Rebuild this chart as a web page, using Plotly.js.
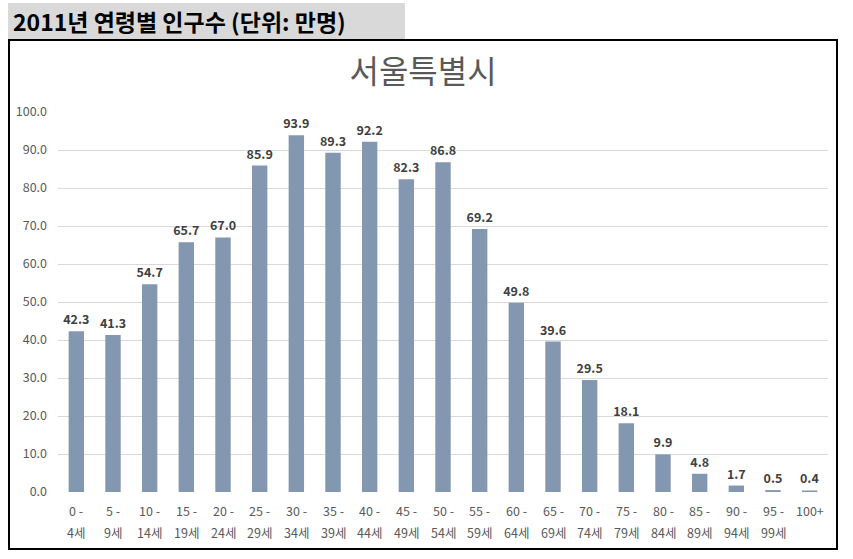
<!DOCTYPE html>
<html>
<head>
<meta charset="utf-8">
<script src="https://cdn.plot.ly/plotly-3.0.1.min.js"></script>
<style>
  html, body { margin: 0; padding: 0; background: #fff; }
  #chart { position: absolute; left: 0; top: 0; width: 853px; height: 559px; }
  #header { position: absolute; left: 8px; top: 3px; width: 397px; height: 36px; background: #D9D9D9;
            font-family: "Noto Sans CJK KR", sans-serif; font-weight: bold; font-size: 23px; color: #000;
            line-height: 36px; padding-left: 5px; box-sizing: border-box; pointer-events: none; white-space: nowrap; }
  #frame { position: absolute; left: 8px; top: 39px; width: 830px; height: 511px; border: 2px solid #000;
           box-sizing: border-box; pointer-events: none; }
</style>
</head>
<body>
<div id="chart"></div>
<div id="frame"></div>
<div id="header">2011년 연령별 인구수 (단위: 만명)</div>
<script>
const categories = ['0-4','5-9','10-14','15-19','20-24','25-29','30-34','35-39','40-44','45-49','50-54','55-59','60-64','65-69','70-74','75-79','80-84','85-89','90-94','95-99','100+'];
const labelLine1 = ['0 -','5 -','10 -','15 -','20 -','25 -','30 -','35 -','40 -','45 -','50 -','55 -','60 -','65 -','70 -','75 -','80 -','85 -','90 -','95 -','100+'];
const labelLine2 = ['4세','9세','14세','19세','24세','29세','34세','39세','44세','49세','54세','59세','64세','69세','74세','79세','84세','89세','94세','99세',''];
const population = [42.3, 41.3, 54.7, 65.7, 67.0, 85.9, 93.9, 89.3, 92.2, 82.3, 86.8, 69.2, 49.8, 39.6, 29.5, 18.1, 9.9, 4.8, 1.7, 0.5, 0.4];
const yTicks = [0,10,20,30,40,50,60,70,80,90,100];

const font = 'Noto Sans CJK KR, sans-serif';
const trace = {
  type: 'bar',
  x: categories,
  y: population,
  marker: { color: '#8497B0' },
  text: population.map(v => v.toFixed(1)),
  textposition: 'outside',
  textangle: 0,
  constraintext: 'none',
  outsidetextfont: { family: font, size: 12.5, color: '#404040', weight: 'bold' },
  textfont: { family: font, size: 12.5, color: '#404040', weight: 'bold' },
  cliponaxis: false,
  hoverinfo: 'none'
};

const annotations = [];
categories.forEach((c, i) => {
  annotations.push({ x: c, y: 0, xref: 'x', yref: 'y', text: labelLine1[i], showarrow: false,
    yanchor: 'middle', yshift: -18, font: { family: font, size: 12.5, color: '#595959' } });
  if (labelLine2[i]) {
    annotations.push({ x: c, y: 0, xref: 'x', yref: 'y', text: labelLine2[i], showarrow: false,
      yanchor: 'middle', yshift: -40, font: { family: font, size: 12.5, color: '#595959' } });
  }
});

const layout = {
  width: 853, height: 559,
  margin: { l: 58, r: 25, t: 112, b: 67 },
  paper_bgcolor: 'rgba(0,0,0,0)',
  plot_bgcolor: 'rgba(0,0,0,0)',
  showlegend: false,
  bargap: 0.58,
  title: { text: '서울특별시', font: { family: font, size: 32, color: '#595959' },
           x: 0.496, xref: 'container', xanchor: 'center', y: 0.871, yref: 'container', yanchor: 'middle' },
  xaxis: { type: 'category', showticklabels: false, showgrid: false, zeroline: false, showline: false, ticks: '' },
  yaxis: { range: [0, 100], tickvals: yTicks, ticktext: yTicks.map(v => v.toFixed(1)),
           showgrid: true, gridcolor: '#D9D9D9', gridwidth: 1, zeroline: false, showline: false,
           ticks: '', ticklabelstandoff: 10,
           tickfont: { family: font, size: 12.5, color: '#595959' } },
  annotations: annotations
};

Plotly.newPlot('chart', [trace], layout, { displayModeBar: false, staticPlot: true });
</script>
</body>
</html>
